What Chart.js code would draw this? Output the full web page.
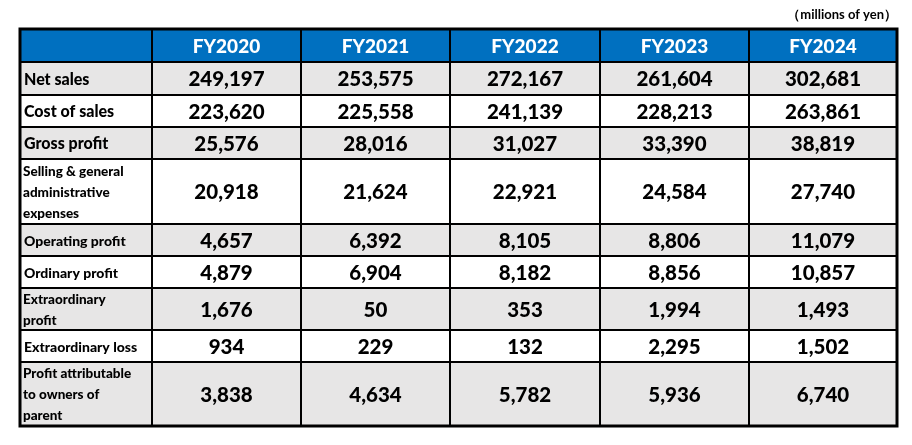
<!DOCTYPE html>
<html lang="en">
<head>
<meta charset="UTF-8">
<title>Financial summary</title>
<script src="https://cdn.jsdelivr.net/npm/chart.js"></script>
<style>
  body { margin: 0; background: #fff; }
  #wrap { width: 912px; height: 445px; }
</style>
</head>
<body>
<div id="wrap"><canvas id="tbl"></canvas></div>
<script>
// ---------- data ----------
const years = ['FY2020', 'FY2021', 'FY2022', 'FY2023', 'FY2024'];
const rowLabels = [
  ['Net sales'],
  ['Cost of sales'],
  ['Gross profit'],
  ['Selling & general', 'administrative', 'expenses'],
  ['Operating profit'],
  ['Ordinary profit'],
  ['Extraordinary', 'profit'],
  ['Extraordinary loss'],
  ['Profit attributable', 'to owners of', 'parent']
];
const netSales = [249197, 253575, 272167, 261604, 302681];
const costOfSales = [223620, 225558, 241139, 228213, 263861];
const grossProfit = [25576, 28016, 31027, 33390, 38819];
const sgaExpenses = [20918, 21624, 22921, 24584, 27740];
const operatingProfit = [4657, 6392, 8105, 8806, 11079];
const ordinaryProfit = [4879, 6904, 8182, 8856, 10857];
const extraProfit = [1676, 50, 353, 1994, 1493];
const extraLoss = [934, 229, 132, 2295, 1502];
const netProfit = [3838, 4634, 5782, 5936, 6740];
const rows = [netSales, costOfSales, grossProfit, sgaExpenses, operatingProfit,
              ordinaryProfit, extraProfit, extraLoss, netProfit];
const unitNote = '（millions of yen）';

// ---------- layout (scale units) ----------
const colEdges = [20, 152, 301, 450, 600, 749, 897];
const rowEdges = [29, 62, 95, 127, 159, 224, 256, 288, 330, 362, 426];
// smaller font for long single-line labels
const labelSize = [16, 16, 16, 0, 14, 14, 0, 14, 0];

const tablePlugin = {
  id: 'tablePlugin',
  afterDraw(chart) {
    const ctx = chart.ctx;
    const xs = chart.scales.x, ys = chart.scales.y;
    const X = v => xs.getPixelForValue(v);
    const Y = v => ys.getPixelForValue(v);
    const font = (w, s) => `${w} ${s}px Lato, "DejaVu Sans", sans-serif`;
    ctx.save();

    // backgrounds
    ctx.fillStyle = '#0070C0';
    ctx.fillRect(X(colEdges[0]), Y(rowEdges[0]), X(colEdges[6]) - X(colEdges[0]), Y(rowEdges[1]) - Y(rowEdges[0]));
    for (let r = 0; r < rows.length; r++) {
      ctx.fillStyle = r % 2 === 0 ? '#E7E6E6' : '#FFFFFF';
      ctx.fillRect(X(colEdges[0]), Y(rowEdges[r + 1]), X(colEdges[6]) - X(colEdges[0]), Y(rowEdges[r + 2]) - Y(rowEdges[r + 1]));
    }

    // header text
    ctx.textBaseline = 'middle';
    ctx.textAlign = 'center';
    ctx.fillStyle = '#FFFFFF';
    ctx.font = font(900, 19);
    years.forEach((y, c) => {
      ctx.fillText(y, (X(colEdges[c + 1]) + X(colEdges[c + 2])) / 2, (Y(rowEdges[0]) + Y(rowEdges[1])) / 2 + 1);
    });

    // body
    ctx.fillStyle = '#000000';
    rows.forEach((vals, r) => {
      const cy = (Y(rowEdges[r + 1]) + Y(rowEdges[r + 2])) / 2 + 1;
      const lines = rowLabels[r];
      ctx.textAlign = 'left';
      if (lines.length === 1) {
        ctx.font = font(900, labelSize[r]);
        ctx.fillText(lines[0], X(colEdges[0]) + 4, cy);
      } else {
        ctx.font = font(900, 13.5);
        const lh = 21;
        lines.forEach((t, i) => ctx.fillText(t, X(colEdges[0]) + 3, cy + (i - (lines.length - 1) / 2) * lh));
      }
      ctx.textAlign = 'center';
      ctx.font = font(900, 20.5);
      vals.forEach((v, c) => {
        ctx.fillText(v.toLocaleString('en-US'), (X(colEdges[c + 1]) + X(colEdges[c + 2])) / 2, cy);
      });
    });

    // grid lines
    ctx.strokeStyle = '#000000';
    ctx.lineWidth = 2;
    rowEdges.slice(1, -1).forEach(e => {
      ctx.beginPath(); ctx.moveTo(X(colEdges[0]), Y(e)); ctx.lineTo(X(colEdges[6]), Y(e)); ctx.stroke();
    });
    colEdges.slice(1, -1).forEach(e => {
      ctx.beginPath(); ctx.moveTo(X(e), Y(rowEdges[0])); ctx.lineTo(X(e), Y(rowEdges[10])); ctx.stroke();
    });
    ctx.lineWidth = 3;
    ctx.strokeRect(X(colEdges[0]), Y(rowEdges[0]), X(colEdges[6]) - X(colEdges[0]), Y(rowEdges[10]) - Y(rowEdges[0]));

    // unit note
    ctx.textAlign = 'right';
    ctx.font = font(700, 13);
    ctx.fillText(unitNote, X(897), Y(15));
    ctx.restore();
  }
};

new Chart(document.getElementById('tbl'), {
  type: 'scatter',
  data: { datasets: [{ data: [], pointRadius: 0 }] },
  options: {
    responsive: true,
    maintainAspectRatio: false,
    animation: false,
    layout: { padding: 0 },
    plugins: { legend: { display: false }, tooltip: { enabled: false } },
    scales: {
      x: { type: 'linear', min: 0, max: 912, display: false },
      y: { type: 'linear', min: 0, max: 445, reverse: true, display: false }
    }
  },
  plugins: [tablePlugin]
});
</script>
</body>
</html>
